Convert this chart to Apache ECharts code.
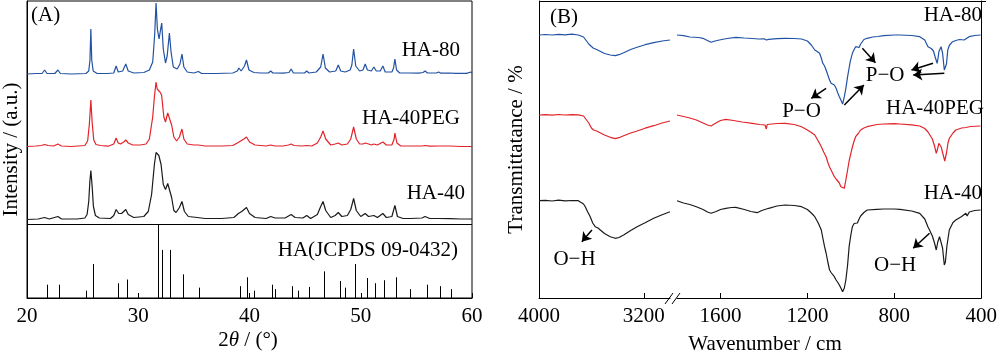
<!DOCTYPE html>
<html>
<head>
<meta charset="utf-8" />
<style>
    html, body { margin: 0; padding: 0; background: #fff; }
    #chart { width: 1000px; height: 351px; }
</style>
<script src="https://cdn.jsdelivr.net/npm/echarts@6/dist/echarts.min.js"></script>
</head>
<body>
<div id="chart"></div>
<script type="text/javascript">
    var FONT = '"Liberation Serif", "Times New Roman", serif';
    var FS = 21;

    // ---- (A) XRD, intensities (a.u., per curve, above its own baseline)
    var xrdNames = ['HA-80', 'HA-40PEG', 'HA-40'];
    var xrdColors = ['#2152a3', '#e2232a', '#1a1a1a'];
    var xrdOffsets = [224, 151, 78.5];

    var xrd80 = [[20,0],[20.8,0.5],[21.35,0.5],[21.58,4],[21.8,0.5],[22.5,0.5],[22.78,4],[23.0,0.5],[24.0,0],[25.3,0.5],[25.55,3],[25.66,14],[25.74,45],[25.82,14],[25.95,3],[26.3,0.5],[27.2,0.5],[27.8,1],[28.01,8],[28.2,2],[28.6,3],[28.88,10],[29.1,3],[29.6,1],[30.5,1.5],[31.0,4],[31.3,12],[31.48,40],[31.6,71],[31.72,45],[31.87,35],[32.0,44],[32.11,51],[32.25,25],[32.45,11],[32.6,18],[32.8,41],[32.95,22],[33.15,7],[33.5,5],[33.75,10],[33.93,20],[34.1,7],[34.4,2],[35.0,1],[35.4,2.5],[35.7,0.5],[37.0,0.5],[38.5,1],[38.9,3],[39.04,6],[39.25,3],[39.55,8],[39.73,14],[39.95,4],[40.4,1.5],[41.0,1],[41.7,1],[41.91,3],[42.1,1],[43.0,0.8],[43.55,1.5],[43.74,5],[43.95,1],[44.5,1],[44.95,1],[45.14,3],[45.35,1],[46.0,2],[46.4,7],[46.61,20],[46.82,6],[47.2,2],[47.75,3],[47.98,9],[48.2,3],[48.6,2],[49.05,4],[49.2,9],[49.36,25],[49.55,8],[49.9,3],[50.2,4],[50.4,10],[50.6,4],[50.95,3],[51.18,7],[51.4,3],[51.75,3],[51.99,8],[52.2,2],[52.8,2],[52.95,6],[53.07,15],[53.22,4],[53.5,1],[54.3,1],[55.2,0.8],[55.6,1.5],[55.78,3],[56.0,1],[56.8,1],[57.01,2],[57.2,0.8],[58.0,1],[58.5,0.6],[59.5,0.6],[59.91,2],[60,1]];

    var xrd40peg = [[20,0.5],[20.8,1],[21.3,1.5],[21.58,2.5],[21.9,1.5],[22.4,1],[22.78,3],[23.1,1],[24.0,0.5],[25.2,1.5],[25.45,6],[25.6,22],[25.74,47],[25.86,24],[26.0,7],[26.2,2.5],[26.6,1.5],[27.3,0.8],[27.8,3],[28.01,9],[28.2,4],[28.4,3],[28.7,5],[28.88,7],[29.1,4],[29.5,2],[30.2,2],[30.7,3],[31.0,8],[31.3,30],[31.45,50],[31.6,65],[31.7,58],[31.8,60],[31.95,55],[32.1,52],[32.3,30],[32.45,25],[32.65,34],[32.8,36],[33.0,22],[33.2,10],[33.45,6],[33.7,10],[33.93,18],[34.1,8],[34.4,3],[35.0,2],[35.4,2],[36.0,1],[37.5,1],[38.5,1.5],[38.9,4],[39.2,6],[39.5,8],[39.73,10],[40.0,5],[40.5,2],[41.5,1],[41.91,2],[42.3,1],[43.0,1],[43.5,2],[43.74,3],[44.0,1.5],[44.7,1],[45.14,1.5],[45.6,1],[46.1,4],[46.4,10],[46.61,16],[46.85,8],[47.3,2],[47.7,3],[47.98,4],[48.3,2],[48.8,3],[49.1,8],[49.36,20],[49.6,8],[49.9,3],[50.2,3],[50.4,4],[50.7,3],[50.95,2],[51.18,3],[51.5,2],[51.99,5],[52.3,2],[52.8,2],[53.0,8],[53.07,14],[53.25,4],[53.6,1],[54.5,1],[55.5,1],[55.78,1.5],[56.2,0.8],[57.01,1],[58.0,1],[59.0,0.5],[60,0.5]];

    var xrd40 = [[20,0],[21.0,0.5],[21.58,2],[22.0,0.5],[22.78,3],[23.1,0.5],[24.5,0.5],[25.2,1.5],[25.4,5],[25.55,18],[25.65,38],[25.74,49],[25.85,34],[25.97,13],[26.15,4],[26.5,1.5],[27.5,1],[27.8,4],[28.01,10],[28.25,6],[28.5,6],[28.88,10],[29.1,5],[29.6,2],[30.5,3],[30.9,8],[31.2,25],[31.45,55],[31.6,67],[31.85,64],[32.05,55],[32.25,35],[32.45,30],[32.65,36],[32.8,38],[33.0,22],[33.2,9],[33.4,7],[33.7,12],[33.93,18],[34.15,8],[34.5,3],[35.3,2],[36.0,1],[37.5,1],[38.6,2],[39.0,6],[39.3,8],[39.73,12],[40.0,6],[40.5,2],[41.5,1],[41.91,3],[42.3,1.5],[43.2,1.5],[43.74,5],[44.1,2],[44.8,1.5],[45.14,4],[45.5,1],[46.1,5],[46.4,13],[46.61,18],[46.85,9],[47.3,2],[47.7,4],[47.98,7],[48.3,3],[48.8,4],[49.1,10],[49.36,21],[49.6,9],[50.0,3],[50.4,6],[50.7,3],[51.18,4],[51.5,2],[51.99,6],[52.3,2],[52.8,3],[53.07,14],[53.3,3],[53.8,1],[54.5,1],[55.5,1.5],[55.78,3],[56.2,1],[57.01,1],[58.0,0.8],[59.0,0.5],[60,0.5]];

    // standard pattern HA (JCPDS 09-0432): 2theta and relative intensity (%)
    var stickPos = [21.79,22.84,25.32,25.89,28.16,28.97,31.78,32.14,32.89,34.05,35.49,39.19,39.82,40.42,42.0,42.33,43.80,44.36,45.32,46.73,48.13,48.61,49.48,50.52,51.27,52.11,53.18,54.47,55.93,57.16,58.12];
    var stickInt = [18,18,10,46,20,25,100,65,65,32,14,16,28,10,18,12,16,10,15,36,23,14,46,27,20,24,28,12,18,16,12];
    var stickTop = 74;

    // ---- (B) FTIR, transmittance (a.u.), axis broken between 3000 and 1800 cm-1
    var irNames = ['HA-80', 'HA-40PEG', 'HA-40'];
    var irLeftTicks = [4000, 3200];
    var irRightTicks = [1600, 1200, 800, 400];

    var ir80Left = [[4000,263],[3950,263.5],[3900,263],[3850,263.7],[3800,263.2],[3750,263.8],[3700,263],[3686,262.5],[3660,261],[3647,259.7],[3620,254],[3600,251.5],[3584,249.7],[3560,248.5],[3545,247.3],[3500,244.5],[3456,243],[3418,242.3],[3390,243.3],[3354,245.3],[3300,248.5],[3251,250.7],[3190,253.3],[3124,255.3],[3060,257],[3000,258]];
    var ir40pegLeft = [[4000,183],[3950,183.3],[3900,182.8],[3850,183.5],[3800,183],[3750,183.4],[3700,183.2],[3686,183],[3660,182],[3647,181.3],[3620,175],[3600,170],[3584,168],[3560,167],[3545,165.7],[3500,163],[3456,160.7],[3418,159.3],[3390,160.3],[3354,162.3],[3300,165],[3251,167],[3190,169.8],[3124,172.3],[3060,175],[3000,177]];
    var ir40Left = [[4000,97.3],[3950,97.6],[3900,97],[3850,97.8],[3800,97.2],[3750,97.5],[3700,97.3],[3686,97],[3660,94],[3647,91.3],[3630,86.5],[3609,81.3],[3590,75],[3571,71.3],[3550,70],[3532,68],[3500,64.5],[3456,61.3],[3418,59.7],[3390,60.5],[3354,63],[3300,67.5],[3251,71.3],[3190,75.3],[3124,79.7],[3060,83.3],[3000,86.3]];

    var ir80Right = [[1800,263],[1770,262.3],[1741,261],[1700,260.5],[1681,259.7],[1660,257.5],[1643,255.7],[1625,257],[1605,258],[1570,259.5],[1529,260.7],[1490,260],[1454,259.5],[1424,259],[1400,259.2],[1389,258],[1378,258.7],[1340,259.3],[1303,259.7],[1260,259.5],[1227,259],[1200,257],[1182,253],[1166,248],[1155,246.5],[1144,244.7],[1136,240],[1129,234.7],[1121,232],[1114,228],[1106,226],[1098,218],[1091,214.7],[1083,215],[1076,213],[1068,209.7],[1060,205],[1053,201.3],[1046,198],[1038,194],[1030,201.3],[1023,209.7],[1015,221.3],[1008,230],[1003,236.3],[993,244.7],[985,248.5],[978,251.3],[970,252],[962,250.5],[955,254],[940,258.5],[925,259.7],[900,261],[875,261.5],[849,262.3],[800,263],[774,263],[720,262.5],[683,261.3],[660,258],[645,251.3],[638,250],[630,249.5],[620,247],[612,241],[603,234.7],[598,241],[595,246.3],[585,251.3],[578,245],[570,228],[565,226.5],[560,234],[554,248],[547,252.5],[532,256.3],[517,257.5],[500,258.5],[479,258],[470,257],[456,261.3],[430,262.5],[403,263],[400,263]];
    var ir40pegRight = [[1800,183],[1770,181.5],[1741,180],[1711,178],[1680,175],[1660,173],[1643,172],[1625,174.5],[1600,177.5],[1575,178.7],[1540,177.5],[1500,176],[1454,174.7],[1420,173.5],[1395,173],[1389,169],[1385,173.5],[1378,174],[1340,174.5],[1303,174.7],[1260,173.5],[1227,171.3],[1200,168],[1182,165.5],[1166,163],[1150,157],[1136,151.3],[1125,146],[1114,141.3],[1105,135],[1098,131],[1091,128],[1083,126],[1076,121.3],[1068,119],[1060,118.5],[1053,115],[1046,111.3],[1038,110.5],[1030,109.7],[1023,118],[1015,128],[1008,137],[1000,144.7],[993,151],[985,157],[978,161.3],[966,164.5],[962,163.5],[955,168],[940,170],[925,171.3],[880,173.5],[849,174],[800,174.3],[774,174],[720,173.2],[683,172],[660,169.5],[645,166],[638,164.7],[625,159],[615,152],[607,144.7],[600,150],[595,154.7],[585,151.3],[575,143],[568,137],[565,136.3],[560,145],[553,155],[547,159.7],[530,165],[517,168],[490,170],[470,170.5],[450,171.5],[403,172],[400,172]];
    var ir40Right = [[1800,97.3],[1770,95],[1741,93.5],[1711,91.3],[1680,88.5],[1660,86],[1643,84.7],[1620,86.5],[1600,88.5],[1575,89.7],[1550,90.5],[1529,90.7],[1490,88.5],[1460,86.5],[1431,85.3],[1410,87.5],[1378,89.7],[1340,92],[1303,93],[1260,92.5],[1227,91.3],[1200,88.5],[1182,85],[1166,81.3],[1150,75],[1136,68],[1129,60],[1121,51.3],[1114,45],[1106,36],[1098,28],[1091,25.5],[1083,24],[1076,21.3],[1068,18],[1060,15.5],[1053,13],[1046,10],[1038,6.3],[1030,10],[1023,18],[1015,33],[1008,51.3],[1000,63],[993,71.3],[985,74.5],[978,76.3],[970,75],[962,79],[955,82],[940,85.5],[925,88],[880,88.7],[849,89],[800,89],[774,88.7],[720,87],[683,84.7],[660,79],[645,71],[638,68],[625,62],[615,55],[607,48],[600,56],[592,61.3],[585,60],[578,50],[570,33],[565,36],[558,52],[547,68],[530,75.5],[517,78],[490,81.5],[471,84.7],[465,82],[455,86],[430,87.5],[403,88],[400,88]];

    // annotation arrows [from, to] and band labels, in axis units
    var arrowsRight = [
        [[947, 249.7], [887, 235.3]],
        [[1030, 193], [940, 213]],
        [[622, 234.7], [721, 228]],
        [[570, 224.7], [713, 223]],
        [[1114, 209.7], [1182, 199.7]],
        [[638, 64.7], [713, 49.7]]
    ];
    var arrowsLeft = [[[3596, 68], [3673, 56.3]]];
    var labelsRight = [['P\u2212O', 842, 223], ['P\u2212O', 1227, 186.3], ['O\u2212H', 796, 33]];
    var labelsLeft = [['O\u2212H', 3729, 38.7]];

    var txt = { color: '#000', fontFamily: FONT, fontSize: FS };

    function offsetData(d, off) {
        return d.map(function (p) { return [p[0], p[1] + off]; });
    }

    function lineSeries(name, data, color, xi) {
        return {
            name: name, type: 'line', xAxisIndex: xi, yAxisIndex: xi,
            data: data, showSymbol: false, symbol: 'none', silent: true,
            lineStyle: { color: color, width: 1.2 }
        };
    }

    function arrowLines(list) {
        return {
            silent: true, animation: false,
            symbol: ['none', 'arrow'], symbolSize: 9,
            label: { show: false },
            lineStyle: { color: '#000', width: 1.5, type: 'solid' },
            data: list.map(function (a) { return [{ coord: a[0] }, { coord: a[1] }]; })
        };
    }

    function textPoints(list) {
        return {
            silent: true, animation: false,
            symbol: 'circle', symbolSize: 1,
            itemStyle: { color: 'rgba(0,0,0,0)' },
            label: {
                show: true, position: 'inside', color: '#000', fontFamily: FONT, fontSize: FS,
                formatter: function (p) { return p.name; }
            },
            data: list.map(function (l) { return { name: l[0], coord: [l[1], l[2]] }; })
        };
    }

    var series = [];
    [xrd80, xrd40peg, xrd40].forEach(function (d, i) {
        series.push(lineSeries(xrdNames[i], offsetData(d, xrdOffsets[i]), xrdColors[i], 0));
    });

    series.push({
        type: 'custom', xAxisIndex: 0, yAxisIndex: 0, silent: true,
        data: stickPos.map(function (p, i) { return [p, stickInt[i] / 100 * stickTop]; }),
        renderItem: function (params, api) {
            var p0 = api.coord([api.value(0), 0]);
            var p1 = api.coord([api.value(0), api.value(1)]);
            var x = Math.round(p0[0]) + 0.5;
            return {
                type: 'line',
                shape: { x1: x, y1: p0[1], x2: x, y2: p1[1] },
                style: { stroke: '#000', lineWidth: 1 }
            };
        },
        markLine: {
            silent: true, symbol: 'none', label: { show: false },
            lineStyle: { color: '#000', width: 1, type: 'solid' },
            data: [{ yAxis: stickTop }]
        }
    });

    var irLeft = [ir80Left, ir40pegLeft, ir40Left];
    var irRight = [ir80Right, ir40pegRight, ir40Right];
    irLeft.forEach(function (d, i) {
        series.push(lineSeries(irNames[i], d, xrdColors[i], 1));
    });
    irRight.forEach(function (d, i) {
        series.push(lineSeries(irNames[i], d, xrdColors[i], 2));
    });
    // annotations hang on the HA-40 series of each half
    series[6].markLine = arrowLines(arrowsLeft);
    series[6].markPoint = textPoints(labelsLeft);
    series[9].markLine = arrowLines(arrowsRight);
    series[9].markPoint = textPoints(labelsRight);

    var axisLine = { show: true, lineStyle: { color: '#000', width: 1 } };
    var tick = { show: true, inside: true, length: 5, lineStyle: { color: '#000' } };
    var label = {
        color: '#000', fontFamily: FONT, fontSize: FS, margin: 8,
        formatter: function (v) { return String(v); }
    };

    var option = {
        animation: false,
        backgroundColor: '#fff',
        grid: [
            { left: 25, top: 1, width: 447, height: 297, show: true, borderColor: '#000', borderWidth: 1 },
            { left: 539, top: 1, width: 131, height: 297 },
            { left: 677, top: 1, width: 309, height: 297 }
        ],
        xAxis: [
            {
                gridIndex: 0, type: 'value', min: 20, max: 60, interval: 10,
                axisLine: axisLine, axisTick: tick, axisLabel: label, splitLine: { show: false }
            },
            {
                gridIndex: 1, type: 'value', min: 3000, max: 4000, inverse: true,
                axisLine: axisLine,
                axisTick: Object.assign({ customValues: irLeftTicks }, tick),
                axisLabel: Object.assign({ customValues: irLeftTicks }, label),
                splitLine: { show: false }
            },
            {
                gridIndex: 2, type: 'value', min: 400, max: 1800, inverse: true,
                axisLine: axisLine,
                axisTick: Object.assign({ customValues: irRightTicks }, tick),
                axisLabel: Object.assign({ customValues: irRightTicks }, label),
                splitLine: { show: false }
            }
        ],
        yAxis: [
            {
                gridIndex: 0, type: 'value', min: 0, max: 297,
                axisLine: axisLine, axisTick: { show: false }, axisLabel: { show: false }, splitLine: { show: false },
                name: 'Intensity / (a.u.)', nameLocation: 'middle', nameGap: 5, nameTextStyle: txt
            },
            {
                gridIndex: 1, type: 'value', min: 0, max: 297,
                axisLine: axisLine, axisTick: { show: false }, axisLabel: { show: false }, splitLine: { show: false },
                name: 'Transmittatance / %', nameLocation: 'middle', nameGap: 12, nameTextStyle: txt
            },
            {
                gridIndex: 2, type: 'value', min: 0, max: 297, position: 'right',
                axisLine: axisLine, axisTick: { show: false }, axisLabel: { show: false }, splitLine: { show: false }
            }
        ],
        graphic: [
            { type: 'line', shape: { x1: 539, y1: 1.5, x2: 986, y2: 1.5 }, style: { stroke: '#000', lineWidth: 1 } },
            { type: 'line', shape: { x1: 665, y1: 304, x2: 673, y2: 293 }, style: { stroke: '#000', lineWidth: 1 } },
            { type: 'line', shape: { x1: 672, y1: 304, x2: 680, y2: 293 }, style: { stroke: '#000', lineWidth: 1 } },
            { type: 'text', style: { text: '(A)', x: 31, y: 15, verticalAlign: 'middle', font: FS + 'px ' + FONT, fill: '#000' } },
            { type: 'text', style: { text: 'HA-80', x: 460, y: 50, align: 'right', verticalAlign: 'middle', font: FS + 'px ' + FONT, fill: '#000' } },
            { type: 'text', style: { text: 'HA-40PEG', x: 460, y: 118, align: 'right', verticalAlign: 'middle', font: FS + 'px ' + FONT, fill: '#000' } },
            { type: 'text', style: { text: 'HA-40', x: 465, y: 193, align: 'right', verticalAlign: 'middle', font: FS + 'px ' + FONT, fill: '#000' } },
            { type: 'text', style: { text: 'HA(JCPDS 09-0432)', x: 458, y: 250, align: 'right', verticalAlign: 'middle', font: FS + 'px ' + FONT, fill: '#000' } },
            {
                type: 'text',
                style: {
                    text: '2{i|\u03b8} / (\u00b0)', x: 248, y: 340, align: 'center', verticalAlign: 'middle',
                    font: FS + 'px ' + FONT, fill: '#000',
                    rich: { i: { fontStyle: 'italic', fontFamily: FONT, fontSize: FS, fill: '#000' } }
                }
            },
            { type: 'text', style: { text: '(B)', x: 550, y: 17, verticalAlign: 'middle', font: FS + 'px ' + FONT, fill: '#000' } },
            { type: 'text', style: { text: 'HA-80', x: 982, y: 15, align: 'right', verticalAlign: 'middle', font: FS + 'px ' + FONT, fill: '#000' } },
            { type: 'text', style: { text: 'HA-40PEG', x: 984, y: 108, align: 'right', verticalAlign: 'middle', font: FS + 'px ' + FONT, fill: '#000' } },
            { type: 'text', style: { text: 'HA-40', x: 982, y: 193, align: 'right', verticalAlign: 'middle', font: FS + 'px ' + FONT, fill: '#000' } },
            { type: 'text', style: { text: 'Wavenumber / cm', x: 765, y: 344, align: 'center', verticalAlign: 'middle', font: FS + 'px ' + FONT, fill: '#000' } }
        ],
        series: series
    };

    var myChart = echarts.init(document.getElementById('chart'));
    myChart.setOption(option);
</script>
</body>
</html>
